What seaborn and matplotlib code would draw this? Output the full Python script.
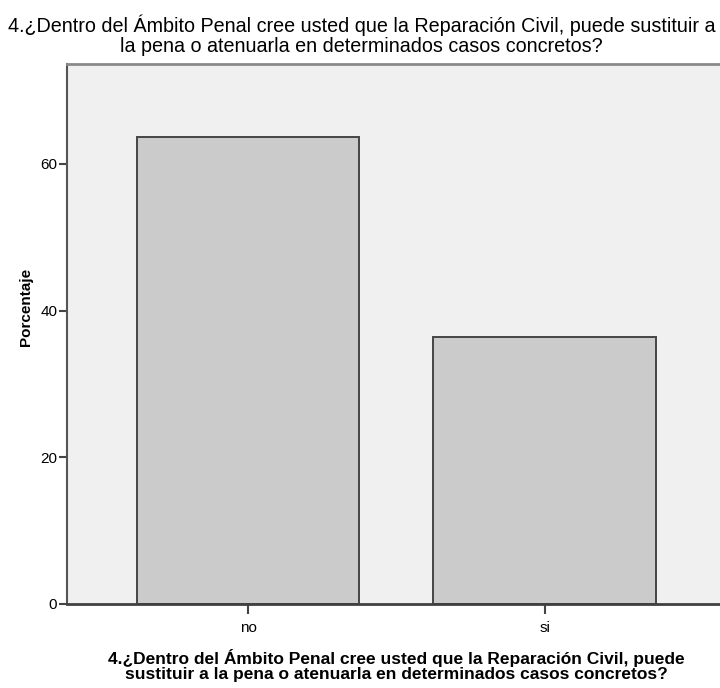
import matplotlib
matplotlib.use("Agg")
import matplotlib.pyplot as plt
from matplotlib import font_manager
import seaborn as sns
import pandas as pd

# datos (porcentajes)
categorias = ["no", "si"]
porcentajes = [63.6, 36.4]
yticks = [0, 20, 40, 60]

titulo = ("4.¿Dentro del Ámbito Penal cree usted que la Reparación Civil, puede sustituir a\n"
          "la pena o atenuarla en determinados casos concretos?")
xlabel = ("4.¿Dentro del Ámbito Penal cree usted que la Reparación Civil, puede\n"
          "sustituir a la pena o atenuarla en determinados casos concretos?")

sns.set_style("white")
nombres = {f.name for f in font_manager.fontManager.ttflist}
fuente = "Liberation Sans Narrow" if "Liberation Sans Narrow" in nombres else "Liberation Sans"
plt.rcParams["font.family"] = [fuente, "DejaVu Sans"]
plt.rcParams["text.color"] = "black"
plt.rcParams["axes.labelcolor"] = "black"
plt.rcParams["xtick.color"] = "black"
plt.rcParams["ytick.color"] = "black"

df = pd.DataFrame({"respuesta": categorias, "porcentaje": porcentajes})

fig = plt.figure(figsize=(7.2, 6.88), dpi=100)
ax = fig.add_axes([0.0931, 0.1221, 0.9146, 0.7849])
ax.set_facecolor("#F0F0F0")

sns.barplot(data=df, x="respuesta", y="porcentaje", order=categorias,
            color="#CBCBCB", saturation=1, width=0.75,
            edgecolor="#454545", linewidth=1.4, ax=ax, zorder=2)

ax.set_xlim(-0.6105, 1.6105)
ax.set_ylim(0, 73.6)
ax.set_yticks(yticks)
ax.set_yticklabels([str(t) for t in yticks])

for lado in ["top", "left", "bottom", "right"]:
    ax.spines[lado].set_visible(True)
ax.spines["top"].set_color("#8A8A8A")
ax.spines["top"].set_linewidth(2)
ax.spines["left"].set_color("#555555")
ax.spines["left"].set_linewidth(1.5)
ax.spines["bottom"].set_color("#404040")
ax.spines["bottom"].set_linewidth(2)
ax.spines["right"].set_visible(False)

ax.tick_params(axis="y", direction="out", length=6, width=1.5, color="#444444",
               labelsize=11, pad=1, left=True)
ax.tick_params(axis="x", direction="out", length=7, width=1.5, color="#444444",
               labelsize=11, pad=5, bottom=True)

ax.set_ylabel("Porcentaje", fontsize=11, fontweight="bold")
ax.yaxis.set_label_coords(-0.052, 0.55)
ax.set_xlabel(xlabel, fontsize=12.5, fontweight="bold", linespacing=1.0, labelpad=10)

fig.text(0.502, 1 - 15 / 688, titulo, ha="center", va="top", fontsize=14.2,
         linespacing=1.05)

plt.savefig("out.png", dpi=100)
